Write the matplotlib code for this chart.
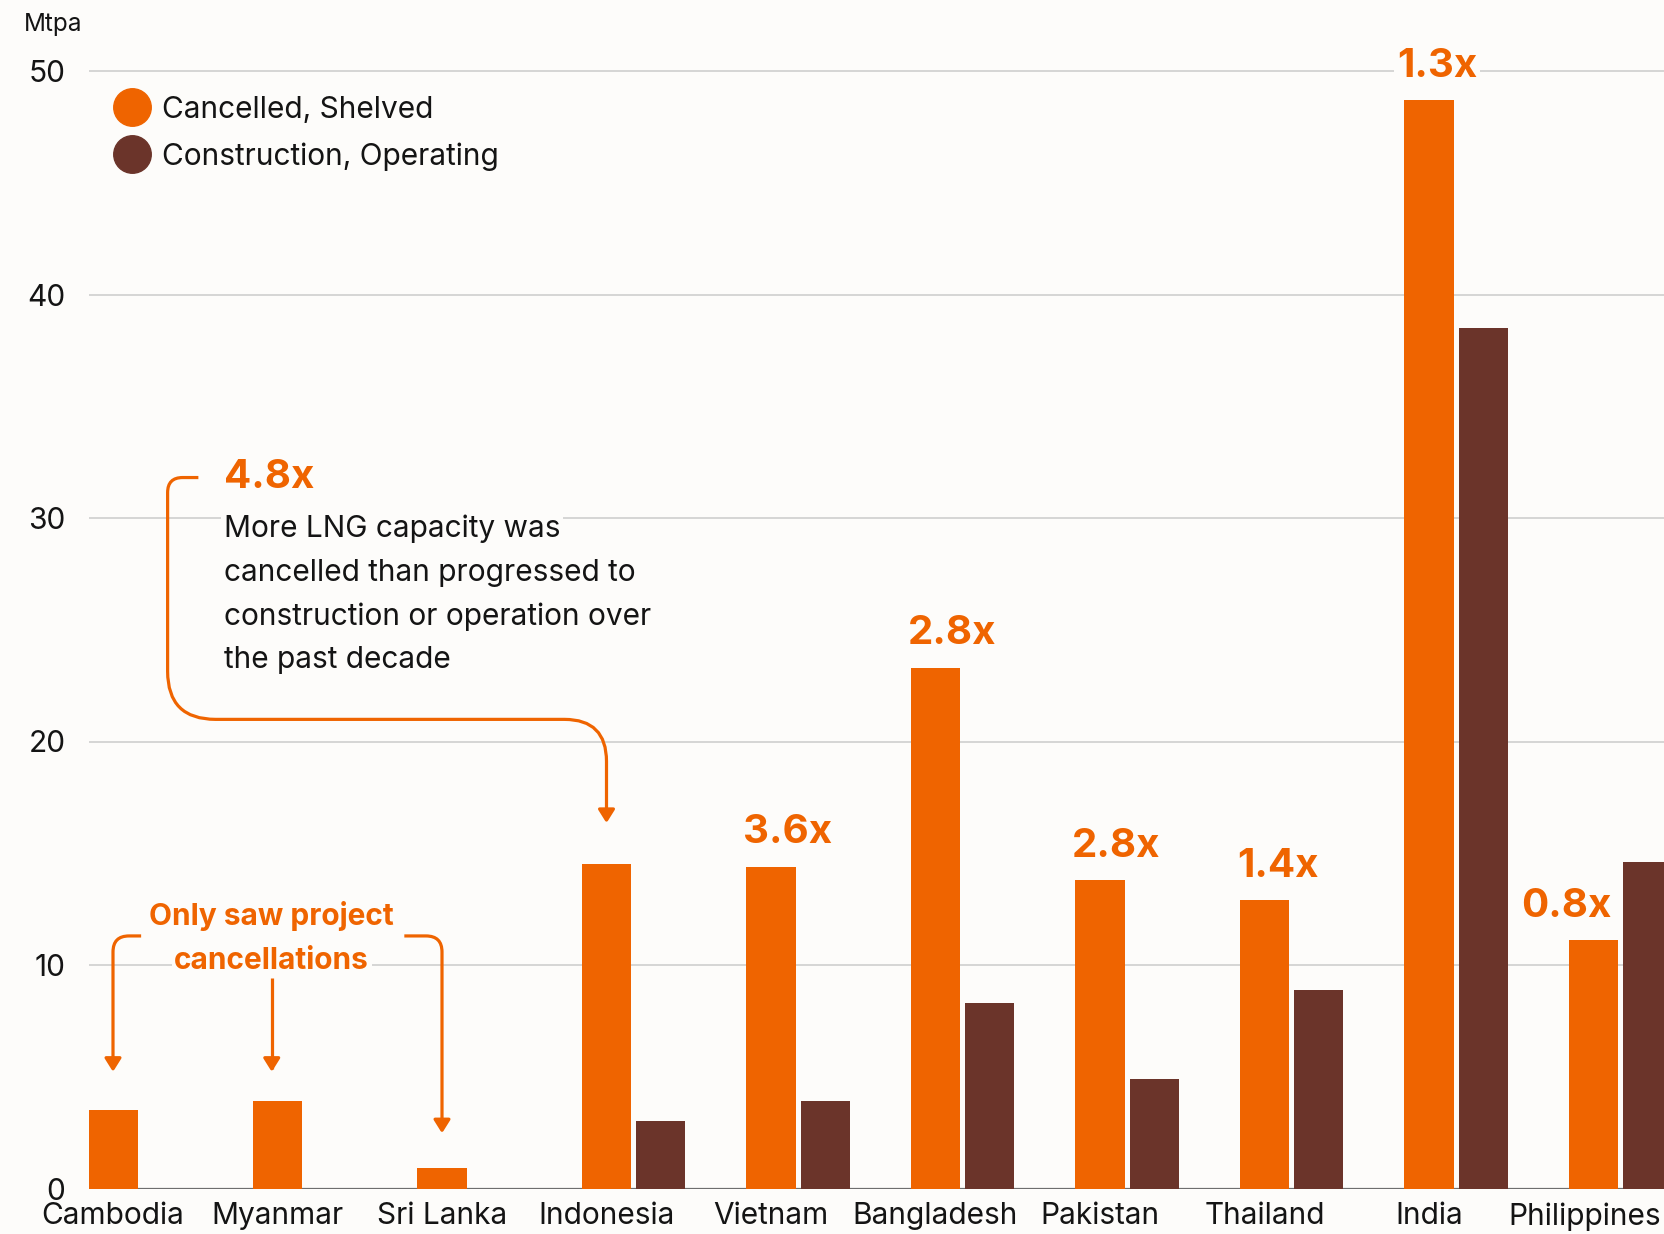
import numpy as np
import matplotlib.pyplot as plt
from matplotlib.lines import Line2D
from matplotlib.path import Path
from matplotlib.patches import FancyArrowPatch
from matplotlib.transforms import ScaledTranslation


countries = ['Cambodia', 'Myanmar', 'Sri Lanka', 'Indonesia', 'Vietnam',
             'Bangladesh', 'Pakistan', 'Thailand', 'India', 'Philippines']
cancelled = [3.5, 3.9, 0.9, 14.5, 14.4, 23.3, 13.8, 12.9, 48.7, 11.1]
progressed = [0, 0, 0, 3.0, 3.9, 8.3, 4.9, 8.9, 38.5, 14.6]
ratios = ['', '', '', '', '3.6x', '2.8x', '2.8x', '1.4x', '1.3x', '0.8x']
yticks = [0, 10, 20, 30, 40, 50]
series = ['Cancelled, Shelved', 'Construction, Operating']
note_lines = ['More LNG capacity was', 'cancelled than progressed to',
              'construction or operation over', 'the past decade']

ORANGE = '#EF6400'
BROWN = '#6B342A'
BG = '#FDFCFA'
INK = '#141414'
FS = 21.5

plt.rcParams['font.family'] = ['Inter', 'DejaVu Sans']


def rounded_path(ax, pts, radii):
    # corners rounded in pixel space, then mapped back to data
    disp = ax.transData.transform(np.array(pts, dtype=float))
    verts = [disp[0]]
    codes = [Path.MOVETO]
    for k in range(1, len(disp) - 1):
        p0, p1, p2 = disp[k - 1], disp[k], disp[k + 1]
        d1 = (p0 - p1) / np.hypot(*(p0 - p1))
        d2 = (p2 - p1) / np.hypot(*(p2 - p1))
        r = radii[k - 1]
        verts += [p1 + d1 * r, p1, p1 + d2 * r]
        codes += [Path.LINETO, Path.CURVE3, Path.CURVE3]
    verts.append(disp[-1])
    codes.append(Path.LINETO)
    return Path(ax.transData.inverted().transform(np.array(verts)), codes)


def arrow(ax, pts, radii):
    p = rounded_path(ax, pts, radii)
    a = FancyArrowPatch(path=p, arrowstyle='-|>,head_length=0.8,head_width=0.5',
                        mutation_scale=10, color=ORANGE, lw=2.3,
                        joinstyle='round', capstyle='butt', zorder=4)
    ax.add_patch(a)


def main():
    W, H = 1664, 1234
    fig = plt.figure(figsize=(W / 100, H / 100), dpi=100, facecolor=BG)

    left_px, base_px = 89, 1188.5
    ax = fig.add_axes([left_px / W, 1 - base_px / H, 1 - left_px / W, base_px / H])
    ax.set_facecolor(BG)

    group_px = 164.5
    x0_px = 113
    ax.set_xlim((left_px - x0_px) / group_px, (W - x0_px) / group_px)
    ax.set_ylim(0, base_px / 22.35)

    x = np.arange(len(countries))
    bw = 0.298
    off = 0.33
    ax.bar(x, cancelled, bw, color=ORANGE, zorder=2)
    ax.bar(x + off, progressed, bw, color=BROWN, zorder=2)

    for s in ax.spines.values():
        s.set_visible(False)
    ax.set_yticks(yticks)
    ax.set_yticklabels([str(v) for v in yticks])
    ax.yaxis.grid(True, color='#CBCBCB', lw=1.1)
    ax.set_axisbelow(True)
    ax.axhline(0, color='#6E6E6E', lw=1.6, zorder=1.5)
    ax.tick_params(axis='y', length=0, pad=17, labelsize=FS, labelcolor=INK)
    ax.set_xticks(x)
    ax.set_xticklabels(countries)
    ax.tick_params(axis='x', length=0, pad=10, labelsize=FS, labelcolor=INK)
    # last label sits at the right edge, nudge it in a little
    last = ax.get_xticklabels()[-1]
    last.set_transform(last.get_transform() +
                       ScaledTranslation(-0.09, 0, fig.dpi_scale_trans))

    fig.text(24 / W, 1 - 31 / H, 'Mtpa', fontsize=17.5, color=INK, va='baseline')

    # legend: dots and labels
    colors = [ORANGE, BROWN]
    for k, name in enumerate(series):
        cy = 1 - (107 + k * 47) / H
        fig.add_artist(Line2D([131.6 / W], [cy], marker='o', ms=27, ls='',
                              color=colors[k], transform=fig.transFigure))
        fig.text(162 / W, cy - 11 / H, name, fontsize=FS, color=INK,
                 va='baseline')

    box = dict(facecolor=BG, edgecolor='none', pad=2)

    # ratio labels above each pair
    for i, t in enumerate(ratios):
        if not t:
            continue
        shift = -0.29 if countries[i] == 'Philippines' else -0.02
        if countries[i] == 'India':
            shift = -0.045
        ax.text(i - bw / 2 + shift, cancelled[i] + 1.05, t, fontsize=29,
                fontweight='bold', color=ORANGE, ha='left', va='baseline',
                bbox=box, zorder=5, clip_on=False)

    # main callout
    ax.text(0.675, 31.34, '4.8x', fontsize=29, fontweight='bold', color=ORANGE,
            ha='left', va='baseline', zorder=5)
    for k, line in enumerate(note_lines):
        ax.text(0.675, 29.15 - k * 1.96, line, fontsize=FS, color=INK,
                ha='left', va='baseline', bbox=box, zorder=5)
    arrow(ax, [(0.519, 31.81), (0.332, 31.81), (0.332, 20.99),
               (3.0, 20.99), (3.0, cancelled[3] + 1.85)], [15, 48, 42])

    # only-cancellations callout
    ax.text(0.965, 11.78, 'Only saw project', fontsize=FS, fontweight='bold',
            color=ORANGE, ha='center', va='baseline', zorder=5)
    ax.text(0.965, 9.83, 'cancellations', fontsize=FS, fontweight='bold',
            color=ORANGE, ha='center', va='baseline', bbox=box, zorder=5)
    arrow(ax, [(0.171, 11.3), (0.0, 11.3), (0.0, 5.22)], [16])
    arrow(ax, [(1.771, 11.3), (2.0, 11.3), (2.0, 2.47)], [16])
    arrow(ax, [(0.965, 9.4), (0.965, 5.22)], [])

    fig.savefig('out.png', dpi=100, facecolor=BG)


if __name__ == "__main__":
    main()
